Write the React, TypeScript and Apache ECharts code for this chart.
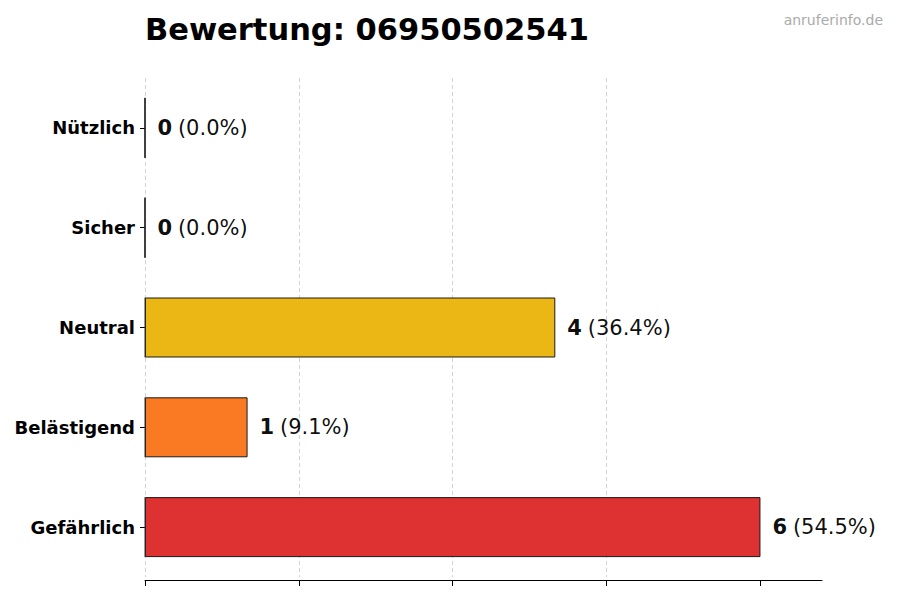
import * as echarts from "echarts"
import { useEffect, useRef } from "react"

const categories = ["Nützlich", "Sicher", "Neutral", "Belästigend", "Gefährlich"]
const counts = [0, 0, 4, 1, 6]
const shares = ["0.0%", "0.0%", "36.4%", "9.1%", "54.5%"]
const colors = ["#16a34a", "#22c55e", "#eab308", "#f97316", "#dc2626"]
const xTicks = [0, 1.5, 3, 4.5, 6]
const xMax = 6.6

const FONT = "DejaVu Sans"

export default function App() {
  const ref = useRef<HTMLDivElement>(null)

  useEffect(() => {
    if (!ref.current) return
    const chart = echarts.init(ref.current, null, { renderer: "svg" })

    chart.setOption({
      animation: false,
      textStyle: { fontFamily: FONT },
      title: [
        {
          text: "Bewertung: 06950502541",
          left: 140,
          top: 9,
          textStyle: { fontFamily: FONT, fontSize: 30.5, fontWeight: "bold", color: "#000" },
        },
        {
          text: "anruferinfo.de",
          right: 12,
          top: 8,
          textStyle: { fontFamily: FONT, fontSize: 14, fontWeight: "normal", color: "#aaaaaa" },
        },
      ],
      grid: { left: 145, right: 78, top: 78, bottom: 23, outerBoundsMode: "none" },
      xAxis: {
        type: "value",
        min: 0,
        max: xMax,
        interval: 1.5,
        offset: 3,
        axisLine: { show: true, lineStyle: { color: "#000", width: 1 } },
        axisTick: { show: true, length: 6, customValues: xTicks, lineStyle: { color: "#000" } },
        axisLabel: { show: false },
        splitLine: {
          show: true,
          showMaxLine: false,
          lineStyle: { color: "#d4d4d4", type: [4, 3], width: 1 },
        },
      },
      yAxis: {
        type: "category",
        inverse: true,
        data: categories,
        axisLine: { show: false },
        axisTick: { show: true, alignWithLabel: true, length: 5, lineStyle: { color: "#000" } },
        axisLabel: { margin: 10, fontFamily: FONT, fontSize: 18, fontWeight: "bold", color: "#000" },
        splitLine: { show: false },
      },
      series: [
        {
          type: "bar",
          barWidth: 60,
          data: counts.map((v, i) => ({
            value: v,
            itemStyle: { color: colors[i], opacity: 0.95, borderColor: "#111", borderWidth: 1 },
          })),
          label: {
            show: true,
            position: "right",
            distance: 12,
            formatter: (p: { dataIndex: number; value: number }) =>
              `{b|${p.value}} {n|(${shares[p.dataIndex]})}`,
            rich: {
              b: { fontFamily: FONT, fontSize: 21, fontWeight: "bold", color: "#000", padding: [0, 2, 0, 0] },
              n: { fontFamily: FONT, fontSize: 21, color: "#000" },
            },
          },
          z: 2,
        },
        {
          // left edge of each bar, so empty categories still show a thin outline
          type: "custom",
          data: counts.map((v, i) => [v, i]),
          encode: { x: 0, y: 1 },
          renderItem: (params: any, api: any) => {
            const p = api.coord([0, api.value(1)])
            return {
              type: "line",
              shape: { x1: p[0], y1: p[1] - 30, x2: p[0], y2: p[1] + 30 },
              style: { stroke: "#333", lineWidth: 1 },
            }
          },
          silent: true,
          z: 3,
        },
      ],
    })

    return () => chart.dispose()
  }, [])

  return <div ref={ref} style={{ width: 900, height: 600, margin: -8 }} />
}
